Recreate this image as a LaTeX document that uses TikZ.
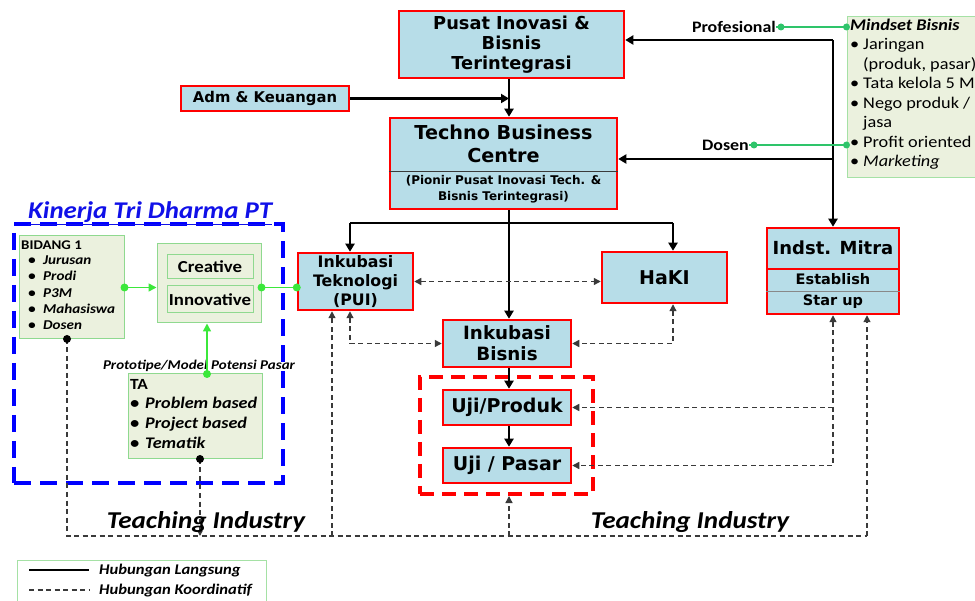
\documentclass[tikz,border=0pt]{standalone}
\usepackage{fontspec}
\setmainfont{DejaVu Sans}
\newfontfamily\calfont[FakeStretch=1.12]{Carlito}
\usetikzlibrary{arrows.meta}
\definecolor{boxblue}{HTML}{B7DDE8}
\definecolor{boxred}{HTML}{FF0000}
\definecolor{lgfill}{HTML}{EBF1DE}
\definecolor{lgline}{HTML}{8FD98F}
\definecolor{brightgreen}{HTML}{3BE83B}
\definecolor{midgreen}{HTML}{2EC46A}
\definecolor{dashgray}{HTML}{3A3A3A}
\definecolor{titleblue}{HTML}{1010E8}
\tikzset{
  bbox/.style={draw=boxred, line width=2.5pt, fill=boxblue, align=center, inner sep=0pt},
  solidarr/.style={line width=2.2pt, -{Triangle[length=8pt,width=9pt]}},
  solidln/.style={line width=2.2pt},
  dashln/.style={dashgray, line width=1.3pt, dash pattern=on 5pt off 3.5pt},
  dtip/.style={-{Triangle[length=7pt,width=7pt]}},
  dtips/.style={{Triangle[length=7pt,width=7pt]}-{Triangle[length=7pt,width=7pt]}},
  gbox/.style={draw=lgline, line width=1pt, fill=lgfill, inner sep=0pt},
  gtext/.style={font=\calfont\bfseries\itshape\fontsize{13.5}{16}\selectfont, anchor=base west, inner sep=0pt},
  garr/.style={brightgreen, line width=1.5pt, -{Triangle[length=8pt,width=8pt]}},
  gdot/.style={circle, fill=brightgreen, inner sep=0pt, minimum size=8pt},
  mdot/.style={circle, fill=midgreen, inner sep=0pt, minimum size=7pt},
  kdot/.style={circle, fill=black, inner sep=0pt, minimum size=8pt},
}
\begin{document}
\begin{tikzpicture}[x=1pt,y=-1pt]
\useasboundingbox (0,0) rectangle (975,601);

% ---------- left panel ----------
\node[draw=blue, line width=4pt, dash pattern=on 17pt off 9pt, minimum width=269pt, minimum height=259pt, inner sep=0pt] (kin) at (148.5,353.5) {};
\node[font=\calfont\bfseries\itshape\fontsize{24}{26}\selectfont, text=titleblue, anchor=base west, inner sep=0pt] (kintitle) at (28,219) {\underline{Kinerja Tri Dharma PT}};

\node[gbox, minimum width=105pt, minimum height=103pt] (bid) at (71.5,287.5) {};
\node[font=\calfont\bfseries\fontsize{13.3}{16}\selectfont, anchor=base west, inner sep=0pt] (bidt) at (21,250) {BIDANG 1};
\foreach \t [count=\i] in {Jurusan,Prodi,P3M,Mahasiswa,Dosen}
  \node[gtext] (bl\i) at (28,248.5+16.25*\i) {\makebox[15pt][l]{\textbullet}\t};

\node[gbox, minimum width=104pt, minimum height=79pt] (cr) at (209,283.5) {};
\node[gbox, minimum width=86pt, minimum height=24pt, font=\calfont\bfseries\fontsize{16.8}{18}\selectfont] (crea) at (210,267) {Creative};
\node[gbox, minimum width=86pt, minimum height=27pt, font=\calfont\bfseries\fontsize{16.8}{18}\selectfont] (inno) at (210,299.5) {Innovative};

\node[gbox, minimum width=134pt, minimum height=85pt] (ta) at (195,416.5) {};
\node[font=\calfont\bfseries\fontsize{15.5}{18}\selectfont, anchor=base west, inner sep=0pt] (tat) at (130,390) {TA};
\foreach \t [count=\i] in {Problem based,Project based,Tematik}
  \node[gtext, font=\calfont\bfseries\itshape\fontsize{16.2}{18}\selectfont] (tl\i) at (130,389+20*\i) {\makebox[15pt][l]{\textbullet}\t};
\node[font=\calfont\bfseries\itshape\fontsize{13.4}{14}\selectfont, inner sep=0pt] (proto) at (199,366) {Prototipe/Model Potensi Pasar};

% ---------- main boxes ----------
\node[bbox, minimum width=225pt, minimum height=67pt, font=\bfseries\fontsize{17.8}{20}\selectfont] (pusat) at (511.5,44.5) {Pusat Inovasi \&\\Bisnis\\Terintegrasi};
\node[bbox, minimum width=168pt, minimum height=25pt, font=\bfseries\fontsize{14.8}{16}\selectfont] (adm) at (265,98.5) {Adm \& Keuangan};
\node[bbox, minimum width=227pt, minimum height=91pt] (tbc) at (503.5,163.5) {};
\draw[dashgray, line width=1pt] (tbc.west |- 0,172) -- (tbc.east |- 0,172);
\node[align=center, font=\bfseries\fontsize{19.2}{23}\selectfont, inner sep=0pt] (tbct) at (503.5,144) {Techno Business\\Centre};
\node[align=center, font=\bfseries\fontsize{12}{16}\selectfont, inner sep=0pt] (tbcb) at (503.5,189.5) {(Pionir Pusat Inovasi Tech. \&\\Bisnis Terintegrasi)};

\node[bbox, minimum width=115pt, minimum height=57pt, font=\bfseries\fontsize{15.8}{19}\selectfont] (inkTek) at (355.5,281.5) {Inkubasi\\Teknologi\\(PUI)};
\node[bbox, minimum width=125pt, minimum height=51pt, font=\bfseries\fontsize{19}{22}\selectfont] (haki) at (664.5,277.5) {HaKI};
\node[bbox, minimum width=128pt, minimum height=47pt, font=\bfseries\fontsize{18.3}{21}\selectfont] (inkBis) at (507,343.5) {Inkubasi\\Bisnis};

\node[draw=boxred, line width=4pt, dash pattern=on 14pt off 8pt, minimum width=173pt, minimum height=117pt, inner sep=0pt] (uji) at (506.5,435.5) {};
\node[bbox, minimum width=128pt, minimum height=35pt, font=\bfseries\fontsize{19}{20}\selectfont] (ujiProd) at (507,407.5) {Uji/Produk};
\node[bbox, minimum width=128pt, minimum height=35pt, font=\bfseries\fontsize{19}{20}\selectfont] (ujiPas) at (507,465.5) {Uji / Pasar};

\node[bbox, minimum width=132pt, minimum height=86pt] (mitra) at (833,271) {};
\draw[dashgray!60, line width=0.8pt] (mitra.west |- 0,291) -- (mitra.east |- 0,291);
\draw[boxred, line width=2.5pt] (mitra.west |- 0,269) -- (mitra.east |- 0,269);
\node[font=\bfseries\fontsize{18}{20}\selectfont, inner sep=0pt] (mitrat) at (833,248) {Indst. Mitra};
\node[font=\bfseries\fontsize{14.5}{16}\selectfont, inner sep=0pt] (mitra1) at (833,279.5) {Establish};
\node[font=\bfseries\fontsize{14.5}{16}\selectfont, inner sep=0pt] (mitra2) at (833,301.5) {Star up};

% mindset
\node[draw=lgline!80, line width=1pt, fill=lgfill, minimum width=143pt, minimum height=161pt, inner sep=0pt] (mind) at (918.5,97.5) {};
\node[anchor=north west, align=left, inner sep=0pt, font=\calfont\fontsize{16.3}{19.5}\selectfont] (mindt) at (850,18.5) {%
\textbf{\textit{Mindset Bisnis}}\\
\makebox[13pt][l]{\textbullet}Jaringan\\
\makebox[13pt][l]{}(produk, pasar)\\
\makebox[13pt][l]{\textbullet}Tata kelola 5 M\\
\makebox[13pt][l]{\textbullet}Nego produk /\\
\makebox[13pt][l]{}jasa\\
\makebox[13pt][l]{\textbullet}Profit oriented\\
\makebox[13pt][l]{\textbullet}\textit{Marketing}};

\node[font=\calfont\bfseries\fontsize{16}{18}\selectfont, anchor=east, inner sep=0pt] (prof) at (776,27) {Profesional};
\node[font=\calfont\bfseries\fontsize{16}{18}\selectfont, anchor=east, inner sep=0pt] (dos) at (749,145) {Dosen};

% ---------- solid connectors ----------
\coordinate (spine) at (509,0);
\draw[solidarr] (pusat.south -| spine) -- (tbc.north -| spine);
\draw[solidarr] (adm.east) -- (adm.east -| spine);
\draw[solidarr] (tbc.south -| spine) -- (inkBis.north -| spine);
\coordinate (brL) at (350,223);
\coordinate (brR) at (673,223);
\draw[solidln] (brL) -- (brR);
\draw[solidarr] (brL) -- (brL |- inkTek.north);
\draw[solidarr] (brR) -- (brR |- haki.north);
\draw[solidarr] (inkBis.south -| spine) -- (ujiProd.north -| spine);
\draw[solidarr] (ujiProd.south -| spine) -- (ujiPas.north -| spine);
\coordinate (rc) at (833,40);
\coordinate (rc2) at (833,159);
\draw[solidarr] (rc) -- (pusat.east |- rc);
\draw[solidarr] (rc) -- (mitra.north);
\draw[solidarr] (rc2) -- (tbc.east |- rc2);

% ---------- dashed connectors ----------
\draw[dashln, dtips] (inkTek.east) -- (inkTek.east -| haki.west);
\draw[dashln, dtips] (brL |- inkTek.south) |- (inkBis.west);
\draw[dashln, dtips] (brR |- haki.south) |- (inkBis.east);
\draw[dashln, dtips] (mitra.south) |- (ujiPas.east);
\draw[dashln, dtip] (mitra.south |- ujiProd.east) -- (ujiProd.east);
\coordinate (bidDot) at (67,339);
\coordinate (taDot) at (200,459);
\coordinate (bl) at (67,536);
\coordinate (br) at (867,536);
\draw[dashln] (bidDot) -- (bl) -- (br);
\draw[dashln, dtip] (br) -- (br |- mitra.south);
\draw[dashln, -{Triangle[length=5pt,width=5pt]}] (taDot) -- (taDot |- bl);
\draw[dashln, dtip] (332,536) -- (inkTek.south -| 332,0);
\draw[dashln, dtip] (spine |- bl) -- (spine |- uji.south);
\node[kdot] (bidDotN) at (bidDot) {};
\node[kdot] (taDotN) at (taDot) {};

% ---------- green connectors ----------
\draw[garr] (bid.east) -- (bid.east -| cr.west);
\node[gdot] (g1) at (bid.east) {};
\draw[brightgreen, line width=1.5pt] (cr.east |- bid.east) -- (inkTek.west |- bid.east);
\node[gdot] (g2) at (cr.east |- bid.east) {};
\node[gdot] (g3) at (inkTek.west |- bid.east) {};
\coordinate (taTop) at (207,374);
\draw[garr] (taTop) -- (taTop |- cr.south);
\node[gdot] (g4) at (taTop) {};

\draw[midgreen, line width=1.5pt] (prof.east) -- (prof.east -| mind.west);
\node[mdot] (m1) at ([xshift=5pt]prof.east) {};
\node[mdot] (m2) at (prof.east -| mind.west) {};
\draw[midgreen, line width=1.5pt] (dos.east) -- (dos.east -| mind.west);
\node[mdot] (m3) at ([xshift=5pt]dos.east) {};
\node[mdot] (m4) at (dos.east -| mind.west) {};

% ---------- bottom texts & legend ----------
\node[font=\calfont\bfseries\itshape\fontsize{24.2}{26}\selectfont, inner sep=0pt] (ti1) at (206,522) {Teaching Industry};
\node[font=\calfont\bfseries\itshape\fontsize{24.2}{26}\selectfont, inner sep=0pt] (ti2) at (690,522) {Teaching Industry};

\node[draw=lgline!80, line width=1pt, fill=white, minimum width=249pt, minimum height=50pt, inner sep=0pt] (leg) at (141.5,585) {};
\coordinate (l1a) at (29,570); \coordinate (l1b) at (89,570);
\coordinate (l2a) at (29,590); \coordinate (l2b) at (89,590);
\draw[solidln] (l1a) -- (l1b);
\draw[dashln, line width=1.1pt] (l2a) -- (l2b);
\node[gtext, font=\calfont\bfseries\itshape\fontsize{14.8}{16}\selectfont] (lt1) at (99,574) {Hubungan Langsung};
\node[gtext, font=\calfont\bfseries\itshape\fontsize{14.8}{16}\selectfont] (lt2) at (99,594) {Hubungan Koordinatif};
\end{tikzpicture}
\end{document}
